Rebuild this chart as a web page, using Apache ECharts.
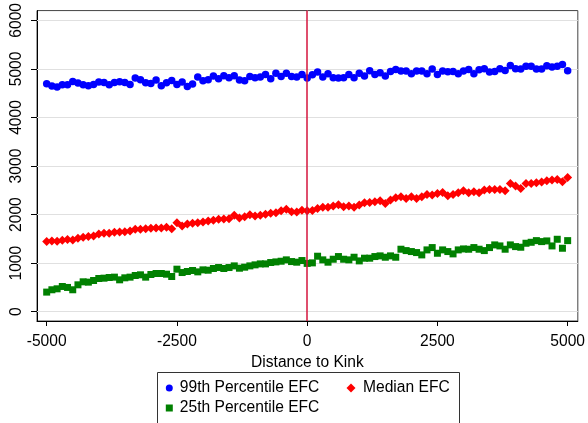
<!DOCTYPE html>
<html>
<head>
<meta charset="utf-8">
<script src="https://cdn.jsdelivr.net/npm/echarts@6/dist/echarts.min.js"></script>
<style>
html,body{margin:0;padding:0;background:#fff;}
#chart{width:588px;height:423px;}
</style>
</head>
<body>
<div id="chart"></div>
<script>
const xValues = [-5000,-4900,-4800,-4700,-4600,-4500,-4400,-4300,-4200,-4100,-4000,-3900,-3800,-3700,-3600,-3500,-3400,-3300,-3200,-3100,-3000,-2900,-2800,-2700,-2600,-2500,-2400,-2300,-2200,-2100,-2000,-1900,-1800,-1700,-1600,-1500,-1400,-1300,-1200,-1100,-1000,-900,-800,-700,-600,-500,-400,-300,-200,-100,0,100,200,300,400,500,600,700,800,900,1000,1100,1200,1300,1400,1500,1600,1700,1800,1900,2000,2100,2200,2300,2400,2500,2600,2700,2800,2900,3000,3100,3200,3300,3400,3500,3600,3700,3800,3900,4000,4100,4200,4300,4400,4500,4600,4700,4800,4900,5000];

const p99EFC = [4695,4647,4626,4674,4674,4742,4708,4674,4654,4681,4729,4722,4674,4722,4736,4722,4681,4811,4777,4715,4701,4770,4654,4715,4763,4681,4729,4640,4688,4831,4756,4777,4852,4797,4859,4818,4859,4770,4756,4845,4818,4831,4886,4797,4913,4845,4913,4845,4831,4886,4811,4879,4934,4831,4900,4818,4811,4818,4886,4818,4913,4852,4961,4886,4920,4852,4948,4989,4955,4955,4900,4955,4955,4900,4996,4886,4955,4941,4948,4900,4955,4989,4900,4982,5003,4934,4948,5003,4968,5071,5003,4996,5057,5057,4996,4996,5064,5037,5057,5091,4961];

const medianEFC = [1444,1458,1451,1471,1485,1478,1512,1533,1547,1560,1601,1615,1615,1636,1642,1649,1663,1697,1697,1711,1718,1725,1725,1738,1711,1834,1766,1807,1820,1834,1848,1868,1882,1902,1909,1916,1985,1930,1957,1995,1971,1985,2005,2026,2039,2080,2108,2060,2053,2087,2077,2084,2125,2149,2149,2176,2204,2162,2176,2149,2197,2245,2251,2265,2286,2231,2299,2347,2368,2334,2368,2334,2368,2416,2402,2436,2455,2388,2416,2450,2491,2450,2470,2450,2505,2518,2518,2518,2491,2641,2587,2539,2641,2641,2655,2669,2696,2710,2724,2676,2765];

const p25EFC = [404,452,472,520,500,452,554,616,609,643,684,691,705,712,657,698,712,746,760,712,766,787,787,773,725,876,807,828,849,821,862,855,890,910,890,910,944,896,917,944,965,985,985,1013,1026,1040,1068,1033,1020,1054,995,1006,1143,1068,1020,1081,1136,1081,1068,1122,1047,1102,1102,1136,1150,1122,1150,1122,1287,1259,1239,1218,1170,1273,1321,1204,1273,1239,1191,1273,1293,1287,1321,1287,1259,1321,1376,1355,1287,1376,1341,1328,1410,1430,1464,1444,1458,1355,1492,1307,1464];

const xTickValues = [-5000,-2500,0,2500,5000];
const yTickValues = [0,1000,2000,3000,4000,5000,6000];
const seriesNames = ['99th Percentile EFC','Median EFC','25th Percentile EFC'];
const xAxisTitle = 'Distance to Kink';
const kinkValue = 0;

const FONT = "'Liberation Sans', Arial, Helvetica, sans-serif";
const FS = 15.6;

function pairs(ys){ return xValues.map((x,i)=>[x, ys[i]]); }
function plain(v){ return String(v); }

const chart = echarts.init(document.getElementById('chart'), null, {renderer:'canvas'});

const legendBase = {
  orient:'horizontal', padding:0, itemGap:0, selectedMode:false,
  textStyle:{fontFamily:FONT, fontSize:FS, color:'#000', lineHeight:18}
};

chart.setOption({
  animation:false,
  backgroundColor:'#fff',
  grid:{left:37, right:8.5, top:10, bottom:102, show:true, borderColor:'#444', borderWidth:1, backgroundColor:'#fff'},
  xAxis:{
    type:'value', min:-5186, max:5195,
    name:xAxisTitle, nameLocation:'middle', nameGap:22,
    nameTextStyle:{fontFamily:FONT, fontSize:FS, color:'#000'},
    axisLine:{show:true, onZero:false, lineStyle:{color:'#000', width:1}},
    axisTick:{show:true, length:5, customValues:xTickValues, lineStyle:{color:'#000'}},
    axisLabel:{show:true, customValues:xTickValues, formatter:plain, margin:13, fontFamily:FONT, fontSize:FS, color:'#000'},
    splitLine:{show:false}
  },
  yAxis:{
    type:'value', min:-191, max:6201,
    axisLine:{show:true, onZero:false, lineStyle:{color:'#000', width:1}},
    axisTick:{show:true, length:6, customValues:yTickValues, lineStyle:{color:'#000'}},
    axisLabel:{show:true, customValues:yTickValues, formatter:plain, rotate:90, margin:12, fontFamily:FONT, fontSize:FS, color:'#000'},
    splitLine:{show:false}
  },
  legend:[
    Object.assign({}, legendBase, {data:[{name:seriesNames[0], icon:'circle'}], left:165.8, top:379, itemWidth:7, itemHeight:7,
      textStyle:Object.assign({}, legendBase.textStyle, {padding:[0,0,0,2]})}),
    Object.assign({}, legendBase, {data:[{name:seriesNames[1], icon:'diamond'}], left:346.5, top:379, itemWidth:9, itemHeight:9,
      textStyle:Object.assign({}, legendBase.textStyle, {padding:[0,0,0,2.5]})}),
    Object.assign({}, legendBase, {data:[{name:seriesNames[2], icon:'rect'}], left:165.8, top:399, itemWidth:7, itemHeight:7,
      textStyle:Object.assign({}, legendBase.textStyle, {padding:[0,0,0,2]})})
  ],
  graphic:[{
    type:'rect', shape:{x:157.5, y:372.5, width:302, height:80},
    style:{fill:'none', stroke:'#333', lineWidth:1}, silent:true, z:0
  }],
  series:[
    {
      type:'line', name:'_grid', data:[], silent:true, z:1,
      markLine:{silent:true, z:1, symbol:['none','none'], label:{show:false},
        lineStyle:{color:'#e0e0e0', width:1, type:'solid'},
        emphasis:{disabled:true},
        data: yTickValues.map(v=>({yAxis:v}))}
    },
    {type:'scatter', name:seriesNames[0], data:pairs(p99EFC), symbol:'circle', symbolSize:7.5,
      itemStyle:{color:'#0000ff', opacity:1}, z:3},
    {type:'scatter', name:seriesNames[1], data:pairs(medianEFC), symbol:'diamond', symbolSize:9,
      itemStyle:{color:'#ff0000', opacity:1}, z:3},
    {type:'scatter', name:seriesNames[2], data:pairs(p25EFC), symbol:'rect', symbolSize:7,
      itemStyle:{color:'#008000', opacity:1}, z:3},
    {
      type:'line', name:'_kink', data:[], silent:true, z:10,
      markLine:{silent:true, z:10, symbol:['none','none'], label:{show:false},
        lineStyle:{color:'#d4143c', width:1.5, type:'solid', opacity:1},
        emphasis:{disabled:true},
        data:[{xAxis:kinkValue}]}
    }
  ]
});
</script>
</body>
</html>
